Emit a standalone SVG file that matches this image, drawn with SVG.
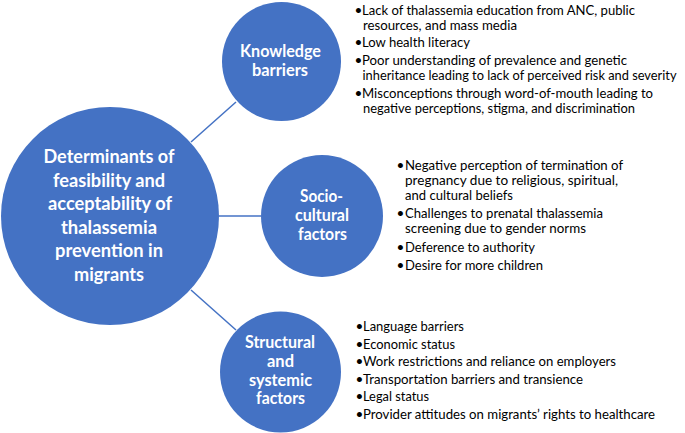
<svg xmlns="http://www.w3.org/2000/svg" width="685" height="433" viewBox="0 0 685 433">
<style>
.c{fill:#4472C4;}
.t{font-family:Lato,"Open Sans","Liberation Sans",sans-serif;font-weight:bold;fill:#fff;text-anchor:middle;}
.b{font-family:Lato,"Open Sans","Liberation Sans",sans-serif;font-size:13.5px;fill:#000;}
.ln{stroke:#4472C4;stroke-width:1.5;fill:none;}
</style>
<rect width="685" height="433" fill="#fff"/>
<g id="connectors">
<line class="ln" x1="191" y1="142" x2="236" y2="102"/>
<line class="ln" x1="219" y1="216" x2="261" y2="216"/>
<line class="ln" x1="191" y1="290" x2="236" y2="330"/>
</g>
<g id="center">
<circle class="c" cx="110" cy="216" r="109"/>
<text class="t" font-size="19.5" x="109" y="163" textLength="131" lengthAdjust="spacingAndGlyphs">Determinants of</text>
<text class="t" font-size="19.5" x="109" y="186.5" textLength="112" lengthAdjust="spacingAndGlyphs">feasibility and</text>
<text class="t" font-size="19.5" x="110" y="210" textLength="124" lengthAdjust="spacingAndGlyphs">acceptability of</text>
<text class="t" font-size="19.5" x="109" y="233.5" textLength="96" lengthAdjust="spacingAndGlyphs">thalassemia</text>
<text class="t" font-size="19.5" x="109" y="257" textLength="108" lengthAdjust="spacingAndGlyphs">prevention in</text>
<text class="t" font-size="19.5" x="109" y="280.5" textLength="70" lengthAdjust="spacingAndGlyphs">migrants</text>
</g>
<g id="knowledge">
<circle class="c" cx="281.5" cy="61.5" r="59.5"/>
<text class="t" font-size="16.5" x="280.5" y="57" textLength="81" lengthAdjust="spacingAndGlyphs">Knowledge</text>
<text class="t" font-size="16.5" x="280" y="76" textLength="56" lengthAdjust="spacingAndGlyphs">barriers</text>
</g>
<g id="socio">
<circle class="c" cx="322" cy="216" r="61"/>
<text class="t" font-size="16.5" x="321.5" y="202" textLength="43" lengthAdjust="spacingAndGlyphs">Socio-</text>
<text class="t" font-size="16.5" x="322" y="221" textLength="54" lengthAdjust="spacingAndGlyphs">cultural</text>
<text class="t" font-size="16.5" x="322.5" y="240" textLength="49" lengthAdjust="spacingAndGlyphs">factors</text>
</g>
<g id="structural">
<circle class="c" cx="280.5" cy="372" r="60.5"/>
<text class="t" font-size="16.5" x="280" y="348" textLength="70" lengthAdjust="spacingAndGlyphs">Structural</text>
<text class="t" font-size="16.5" x="280.5" y="366.5" textLength="27" lengthAdjust="spacingAndGlyphs">and</text>
<text class="t" font-size="16.5" x="280.5" y="385.5" textLength="63" lengthAdjust="spacingAndGlyphs">systemic</text>
<text class="t" font-size="16.5" x="280.5" y="404" textLength="49" lengthAdjust="spacingAndGlyphs">factors</text>
</g>
<g id="knowledge-list" class="b">
<text y="15"><tspan x="354.5">•</tspan><tspan x="362" textLength="273" lengthAdjust="spacingAndGlyphs">Lack of thalassemia education from ANC, public</tspan></text>
<text x="363" y="29.5" textLength="154" lengthAdjust="spacingAndGlyphs">resources, and mass media</text>
<text y="47"><tspan x="354.5">•</tspan><tspan x="362" textLength="108" lengthAdjust="spacingAndGlyphs">Low health literacy</tspan></text>
<text y="65"><tspan x="354.5">•</tspan><tspan x="362" textLength="265" lengthAdjust="spacingAndGlyphs">Poor understanding of prevalence and genetic</tspan></text>
<text x="362.5" y="79.5" textLength="314" lengthAdjust="spacingAndGlyphs">inheritance leading to lack of perceived risk and severity</text>
<text y="98"><tspan x="354.5">•</tspan><tspan x="362" textLength="291" lengthAdjust="spacingAndGlyphs">Misconceptions through word-of-mouth leading to</tspan></text>
<text x="363" y="112.5" textLength="272" lengthAdjust="spacingAndGlyphs">negative perceptions, stigma, and discrimination</text>
</g>
<g id="socio-list" class="b">
<text y="170"><tspan x="396.5">•</tspan><tspan x="405" textLength="218" lengthAdjust="spacingAndGlyphs">Negative perception of termination of</tspan></text>
<text x="405" y="185" textLength="213" lengthAdjust="spacingAndGlyphs">pregnancy due to religious, spiritual,</text>
<text x="405" y="200" textLength="108" lengthAdjust="spacingAndGlyphs">and cultural beliefs</text>
<text y="218"><tspan x="396.5">•</tspan><tspan x="405" textLength="198" lengthAdjust="spacingAndGlyphs">Challenges to prenatal thalassemia</tspan></text>
<text x="405" y="233" textLength="181" lengthAdjust="spacingAndGlyphs">screening due to gender norms</text>
<text y="251.5"><tspan x="396.5">•</tspan><tspan x="405" textLength="130" lengthAdjust="spacingAndGlyphs">Deference to authority</tspan></text>
<text y="270"><tspan x="396.5">•</tspan><tspan x="405" textLength="138" lengthAdjust="spacingAndGlyphs">Desire for more children</tspan></text>
</g>
<g id="structural-list" class="b">
<text y="331"><tspan x="355.5">•</tspan><tspan x="363" textLength="101" lengthAdjust="spacingAndGlyphs">Language barriers</tspan></text>
<text y="348.5"><tspan x="355.5">•</tspan><tspan x="363" textLength="92" lengthAdjust="spacingAndGlyphs">Economic status</tspan></text>
<text y="366"><tspan x="355.5">•</tspan><tspan x="363" textLength="253" lengthAdjust="spacingAndGlyphs">Work restrictions and reliance on employers</tspan></text>
<text y="383.5"><tspan x="355.5">•</tspan><tspan x="363" textLength="220" lengthAdjust="spacingAndGlyphs">Transportation barriers and transience</tspan></text>
<text y="401"><tspan x="355.5">•</tspan><tspan x="363" textLength="66" lengthAdjust="spacingAndGlyphs">Legal status</tspan></text>
<text y="418.5"><tspan x="355.5">•</tspan><tspan x="363" textLength="292" lengthAdjust="spacingAndGlyphs">Provider attitudes on migrants’ rights to healthcare</tspan></text>
</g>
</svg>
